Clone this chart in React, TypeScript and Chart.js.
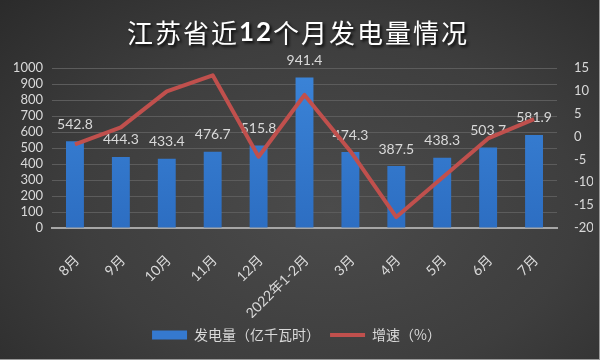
import React, { useEffect, useRef } from "react";
import { Chart, registerables } from "chart.js";

Chart.register(...registerables);

const categories = ["8月", "9月", "10月", "11月", "12月", "2022年1-2月", "3月", "4月", "5月", "6月", "7月"];
const generation = [542.8, 444.3, 433.4, 476.7, 515.8, 941.4, 474.3, 387.5, 438.3, 503.7, 581.9];
const growth = [-1.7, 2.0, 9.9, 13.4, -4.4, 9.1, -3.2, -17.6, -9.0, -0.4, 3.8];
const titleParts = ["江苏省近", "12", "个月发电量情况"];
const seriesNames = ["发电量（亿千瓦时）", "增速（%）"];
const leftTicks = { min: 0, max: 1000, step: 100 };
const rightTicks = { min: -20, max: 15, step: 5 };

const TEXT = "#d9d9d9";
const BAR = "#3579cf";
const LINE = "#c0504d";
const NUM_FONT = "Lato, 'Noto Sans CJK SC', sans-serif";
const CJK_FONT = "'Noto Sans CJK SC', sans-serif";

const titlePlugin = {
  id: "mixedTitle",
  afterDraw(chart: any) {
    const ctx = chart.ctx as CanvasRenderingContext2D;
    ctx.save();
    const fonts = [
      `400 26px ${CJK_FONT}`,
      `700 26px ${NUM_FONT}`,
      `400 26px ${CJK_FONT}`,
    ];
    (ctx as any).letterSpacing = "2px";
    const widths = titleParts.map((p, i) => {
      ctx.font = fonts[i];
      return ctx.measureText(p).width;
    });
    const total = widths.reduce((a, b) => a + b, 0);
    let x = 298 - total / 2;
    ctx.textBaseline = "middle";
    ctx.textAlign = "left";
    ctx.fillStyle = "#ffffff";
    ctx.shadowColor = "rgba(0,0,0,0.85)";
    ctx.shadowOffsetX = 2;
    ctx.shadowOffsetY = 2;
    ctx.shadowBlur = 3;
    titleParts.forEach((p, i) => {
      ctx.font = fonts[i];
      ctx.fillText(p, x, 33);
      x += widths[i];
    });
    ctx.restore();
  },
};

const barLabelPlugin = {
  id: "barLabels",
  afterDatasetDraw(chart: any, args: any) {
    if (args.index !== 0) return;
    const ctx = chart.ctx as CanvasRenderingContext2D;
    const meta = chart.getDatasetMeta(0);
    ctx.save();
    ctx.font = `14px ${NUM_FONT}`;
    ctx.fillStyle = TEXT;
    ctx.textAlign = "center";
    ctx.textBaseline = "middle";
    meta.data.forEach((bar: any, i: number) => {
      ctx.fillText(generation[i].toFixed(1), bar.x, bar.y - 17);
    });
    ctx.restore();
  },
};

export default function App() {
  const ref = useRef<HTMLCanvasElement | null>(null);

  useEffect(() => {
    document.body.style.margin = "0";
    if (!ref.current) return;
    const chart = new Chart(ref.current, {
      type: "bar",
      data: {
        labels: categories,
        datasets: [
          {
            type: "bar",
            label: seriesNames[0],
            data: generation,
            yAxisID: "y",
            order: 1,
            barPercentage: 0.39,
            categoryPercentage: 1,
            backgroundColor: (c: any) => {
              const area = c.chart.chartArea;
              if (!area) return BAR;
              const g = c.chart.ctx.createLinearGradient(0, area.top, 0, area.bottom);
              g.addColorStop(0, "#3b84d8");
              g.addColorStop(1, "#2d6ec2");
              return g;
            },
          },
          {
            type: "line",
            label: seriesNames[1],
            data: growth,
            yAxisID: "y1",
            order: 0,
            borderColor: LINE,
            borderWidth: 4,
            pointRadius: 0,
            tension: 0,
            borderJoinStyle: "round",
          },
        ],
      } as any,
      options: {
        responsive: false,
        animation: false,
        layout: { padding: { top: 68, bottom: 8, left: 0, right: 7 } },
        plugins: {
          title: { display: false },
          tooltip: { enabled: false },
          legend: {
            position: "bottom",
            labels: {
              usePointStyle: true,
              pointStyleWidth: 35,
              boxHeight: 9,
              padding: 10,
              color: TEXT,
              font: { size: 14, family: CJK_FONT },
              generateLabels: () => [
                {
                  text: seriesNames[0],
                  fillStyle: BAR,
                  strokeStyle: BAR,
                  lineWidth: 0,
                  pointStyle: "rect",
                  datasetIndex: 0,
                  hidden: false,
                  fontColor: TEXT,
                },
                {
                  text: seriesNames[1],
                  fillStyle: LINE,
                  strokeStyle: LINE,
                  lineWidth: 4,
                  pointStyle: "line",
                  datasetIndex: 1,
                  hidden: false,
                  fontColor: TEXT,
                },
              ],
            },
          },
        },
        scales: {
          x: {
            grid: { display: false },
            border: { display: true, color: "#a6a6a6", width: 2 },
            ticks: {
              color: TEXT,
              font: { size: 14, family: NUM_FONT },
              minRotation: 45,
              maxRotation: 45,
              autoSkip: false,
              padding: 16,
              labelOffset: 2,
            },
            afterFit: (s: any) => {
              s.height = 90;
            },
          },
          y: {
            position: "left",
            min: leftTicks.min,
            max: leftTicks.max,
            ticks: {
              stepSize: leftTicks.step,
              autoSkip: false,
              color: TEXT,
              font: { size: 13, family: NUM_FONT },
              padding: 9,
              callback: (v: any) => String(v),
            },
            grid: { color: "#5c5c5c", drawTicks: false },
            border: { display: false },
            afterFit: (s: any) => {
              s.width = 52;
            },
          },
          y1: {
            position: "right",
            min: rightTicks.min,
            max: rightTicks.max,
            ticks: {
              stepSize: rightTicks.step,
              autoSkip: false,
              color: TEXT,
              font: { size: 13, family: NUM_FONT },
              padding: 9,
              callback: (v: any) => String(v),
            },
            grid: { display: false, drawOnChartArea: false },
            border: { display: false },
            afterFit: (s: any) => {
              s.width = 36;
            },
          },
        },
      } as any,
      plugins: [titlePlugin, barLabelPlugin],
    });
    return () => chart.destroy();
  }, []);

  return (
    <div
      style={{
        position: "relative",
        width: 600,
        height: 360,
        background:
          "radial-gradient(ellipse 75% 85% at 55% 58%, #4b4b4b 0%, #3e3e3e 55%, #2b2b2b 100%)",
        boxShadow: "inset -1px -1px 0 #9a9a9a",
      }}
    >
      <canvas ref={ref} width={600} height={360} style={{ display: "block" }} />
    </div>
  );
}
